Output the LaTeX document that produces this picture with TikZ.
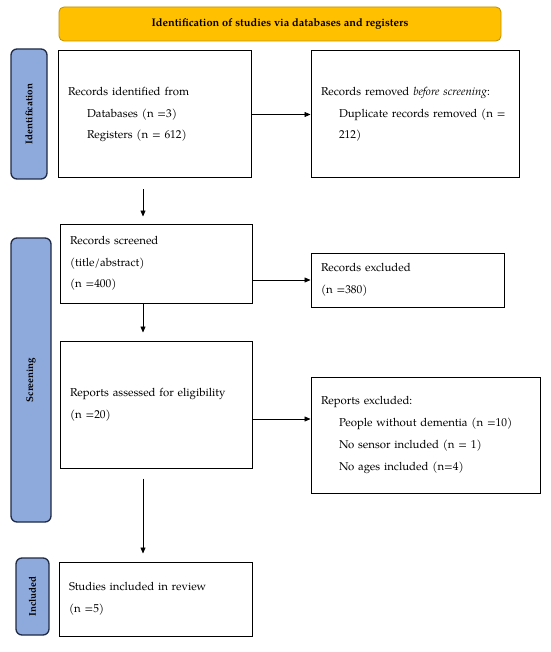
\documentclass[tikz,border=0pt]{standalone}
\usepackage{fontspec}
\setmainfont{TeX Gyre Pagella}
\usetikzlibrary{arrows.meta,calc}
\definecolor{bannerfill}{HTML}{FFC000}
\definecolor{bannerdraw}{HTML}{BF9000}
\definecolor{tabfill}{HTML}{8EA9DB}
\definecolor{tabdraw}{HTML}{1F2A44}
\begin{document}
\begin{tikzpicture}[x=1pt,y=-1pt,
  box/.style n args={3}{draw=black, line width=1pt, rectangle, inner sep=0pt,
    align=left, minimum width=#1pt, minimum height=#2pt, text width=#3pt,
    font=\fontsize{11.4}{21.7}\selectfont},
  tab/.style n args={2}{draw=tabdraw, fill=tabfill, line width=1.3pt, rounded corners=6pt,
    rotate=90, inner sep=0pt, minimum width=#1pt, minimum height=#2pt,
    font=\fontsize{9.8}{12}\selectfont\bfseries},
  banner/.style={draw=bannerdraw, fill=bannerfill, line width=0.8pt, rounded corners=5pt,
    inner sep=0pt, minimum width=442pt, minimum height=34pt,
    font=\fontsize{11}{12}\selectfont\bfseries},
  arr/.style={-{Triangle[length=6pt,width=5pt]}, line width=0.7pt}]
\useasboundingbox (0,0) rectangle (550,652);
\fill[white] (0,0) rectangle (550,652);

\node[banner] (ban) at (280,24) {Identification of studies via databases and registers};

\node[tab={130}{36}] (tI) at (29,114) {Identification};
\node[tab={284}{40}] (tS) at (31,380) {Screening};
\node[tab={77}{33}] (tN) at (32.5,596.5) {Included};

\node[box={193}{127}{173}] (A) at (154.5,114.5) {Records identified from\\
  \hspace*{19pt}Databases (n =3)\\
  \hspace*{19pt}Registers (n = 612)};
\node[box={208}{127}{188}] (B) at (415,114.5) {Records removed \textit{before screening}:\\
  \hspace*{18pt}\makebox[170pt][s]{Duplicate records removed (n =}\\
  \hspace*{18pt}212)};
\node[box={192}{79}{172}] (C) at (156,263.5) {Records screened\\
  (title/abstract)\\
  (n =400)};
\node[box={193}{54}{173}] (D) at (407.5,280) {Records excluded\\
  (n =380)};
\node[box={192}{127}{172}] (E) at (156,404.5) {Reports assessed for eligibility\\
  (n =20)};
\node[box={229}{116}{209}] (F) at (425.5,435) {Reports excluded:\\
  \hspace*{18pt}People without dementia (n =10)\\
  \hspace*{18pt}No sensor included (n = 1)\\
  \hspace*{18pt}No ages included (n=4)};
\node[box={193}{74}{173}] (G) at (155.5,599) {Studies included in review\\
  (n =5)};

\coordinate (colx) at (143,0);
\coordinate (efy) at (0,419);

\draw[arr] (A.east) -- (B.west);
\draw[arr] (C.east |- D.west) -- (D.west);
\draw[arr] (E.east |- efy) -- (F.west |- efy);
\draw[arr, shorten <=11pt, shorten >=7pt] (A.south -| colx) -- (C.north -| colx);
\draw[arr, shorten >=8pt] (C.south -| colx) -- (E.north -| colx);
\draw[arr, shorten <=10pt, shorten >=8pt] (E.south -| colx) -- (G.north -| colx);
\end{tikzpicture}
\end{document}
